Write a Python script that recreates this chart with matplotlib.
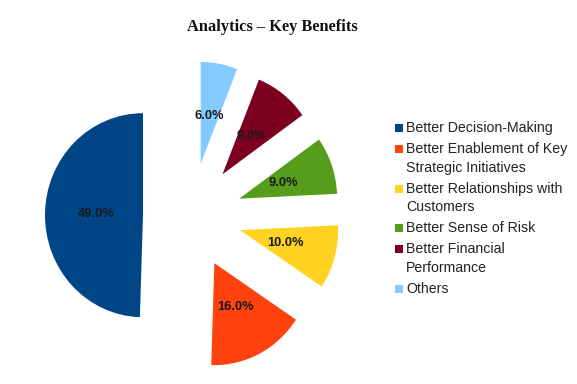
import matplotlib
matplotlib.use("Agg")
import matplotlib.pyplot as plt
from matplotlib.patches import Rectangle

categories = ["Better Decision-Making",
              "Better Enablement of Key\nStrategic Initiatives",
              "Better Relationships with\nCustomers",
              "Better Sense of Risk",
              "Better Financial\nPerformance",
              "Others"]
values = [49, 16, 10, 9, 9, 6]
value_labels = ["49.0%", "16.0%", "10.0%", "9.0%", "9.0%", "6.0%"]
colors = ["#004586", "#ff420e", "#ffd320", "#579d1c", "#7e0021", "#83caff"]
explode = [0.49, 0.52, 0.52, 0.52, 0.52, 0.52]

W, H = 577, 384
fig = plt.figure(figsize=(W / 100, H / 100), dpi=100)
ax = fig.add_axes([0, 0, 1, 1])
lab_iter = iter(value_labels)
wedges, texts, autotexts = ax.pie(values, colors=colors, startangle=90, counterclock=True,
                                  explode=explode, radius=1.0,
                                  autopct=lambda p: next(lab_iter),
                                  pctdistance=0.48, wedgeprops=dict(linewidth=0),
                                  textprops=dict(fontsize=9.3, fontweight='bold',
                                                 family='Liberation Sans', color='#1a1a1a'))
cx, cy = 191, 216
sx, sy = 98, 102
ax.set_aspect('auto')
ax.set_xlim(-cx / sx, (W - cx) / sx)
ax.set_ylim(-(H - cy) / sy, cy / sy)
ax.axis('off')

fig.text(272 / W, 1 - 27 / H, "Analytics – Key Benefits", ha='center', va='center',
         family='Liberation Serif', fontweight='bold', fontsize=11.8, color='#111111')

# legend drawn manually
line_h = 18.7
gap = 21
y = 128
for lab, col in zip(categories, colors):
    fig.patches.append(Rectangle((394.5 / W, 1 - (y + 4) / H), 8 / W, 8 / H,
                                 transform=fig.transFigure, facecolor=col, edgecolor='none'))
    lines = lab.split("\n")
    for i, ln in enumerate(lines):
        fig.text(406 / W, 1 - (y + i * line_h) / H, ln, ha='left', va='center',
                 family='Liberation Sans', fontsize=10.2, color='#222222')
    y += (len(lines) - 1) * line_h + gap

fig.savefig("out.png", dpi=100)
